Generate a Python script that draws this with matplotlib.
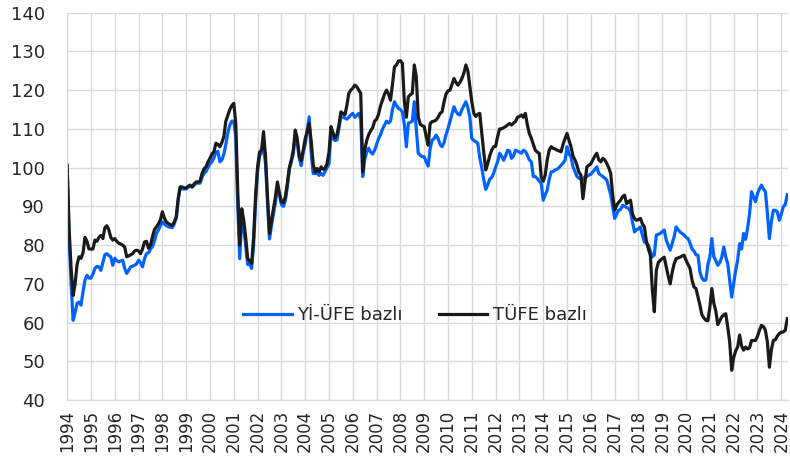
import numpy as np
import matplotlib
matplotlib.use('Agg')
import matplotlib.pyplot as plt

plt.rcParams['font.family'] = ['DejaVu Sans']

# aylik degerler, 1994 Ocak - 2024 Nisan
tufe = {
    1994: [100.6, 84, 74, 67, 70, 75, 77, 76.6, 78, 82, 81, 79],
    1995: [79, 79, 81.3, 81, 82, 82.5, 81.7, 84.5, 85, 84, 82, 81.3],
    1996: [81.7, 81, 80.5, 80.3, 80, 79.5, 77, 77.2, 77.5, 77.8, 78.5, 78.7],
    1997: [78.5, 77.8, 79, 80.8, 81, 79.2, 80, 82.1, 84, 84.7, 85.5, 86.5],
    1998: [88.6, 87, 86, 85.6, 85.3, 85.1, 86, 87.3, 92, 95, 95, 94.8],
    1999: [94.7, 95.2, 95.5, 95, 95.8, 96.3, 96.3, 96.5, 98.5, 99.7, 100.2, 101.5],
    2000: [102.4, 103.5, 104.1, 106.3, 106, 105.4, 106.5, 108, 112, 113.5, 115, 116],
    2001: [116.6, 111.4, 94, 80, 89.4, 86.5, 82, 76.5, 76, 75.2, 82, 93],
    2002: [100.2, 104, 104.5, 109.3, 103, 92.5, 83, 86.4, 89.5, 92.5, 96.3, 93.5],
    2003: [91.2, 91, 92.5, 96, 100, 102, 104.5, 109.7, 107.5, 103, 101.8, 104.5],
    2004: [107.5, 109.3, 111.4, 107, 101, 98.9, 99.8, 98.9, 100.2, 99.6, 99.8, 101],
    2005: [104, 110.6, 109, 107.6, 108.5, 111, 114.4, 114, 113.6, 116, 119.2, 120],
    2006: [120.5, 121.3, 120.9, 120, 119.2, 98.9, 104.5, 107, 108.5, 109.5, 110.3, 112],
    2007: [112.5, 113.8, 116, 117.5, 119, 120, 119, 117.4, 121.5, 126, 126.5, 127.5],
    2008: [127.6, 126.9, 117, 113, 118.3, 118.8, 119.2, 126.5, 123.5, 113, 111.2, 110.8],
    2009: [110.6, 108, 105.8, 111.4, 111.9, 112, 112.3, 113, 114, 114.4, 117, 119],
    2010: [119.8, 120, 121.5, 123, 122, 121.3, 122, 123, 124.4, 126.5, 125, 121],
    2011: [117, 114, 113.2, 113.8, 114, 109, 104, 99.4, 101, 103, 104.5, 105.4],
    2012: [105.5, 108, 110, 110, 110.3, 110.6, 111, 111.4, 111, 111.5, 111.9, 113],
    2013: [113.2, 113.6, 113, 114, 111, 108.8, 107.6, 106, 104.5, 104, 103.7, 97.5],
    2014: [96.5, 98.1, 102, 104.5, 105.4, 105, 104.8, 104.5, 104.3, 104.1, 106, 107.5],
    2015: [108.8, 107, 105.4, 103, 102, 100.6, 98.8, 98.1, 92, 96, 100.2, 100.6],
    2016: [101, 102, 103, 103.7, 102, 101.5, 102.4, 102, 101.1, 100, 98.5, 93],
    2017: [89, 90.3, 91, 91.6, 92.5, 92.9, 90.7, 91.2, 91.6, 88, 86.9, 86.4],
    2018: [86.6, 86.9, 85.5, 84.7, 81, 79, 77.4, 68.4, 62.8, 73.5, 75.5, 76.1],
    2019: [76.5, 76.9, 74.4, 72, 70, 73, 75.2, 76.5, 76.7, 76.9, 77.2, 77.4],
    2020: [76.1, 75, 74, 71, 69.2, 68.8, 66.6, 64.5, 62, 61.2, 60.6, 60.5],
    2021: [64, 68.8, 65, 63, 59.5, 60.5, 61.5, 62, 62.3, 58.9, 55, 47.7],
    2022: [51, 52.7, 53.7, 56.8, 54, 52.9, 53.7, 53.2, 53.5, 55.4, 55.4, 55.4],
    2023: [56.5, 58, 59.3, 59, 58, 55, 48.5, 53, 55.4, 55.6, 56.5, 57.2],
    2024: [57.5, 57.6, 58, 61],
}

yiufe = {
    1994: [100.6, 81, 70, 60.6, 62.5, 65, 65.3, 64.5, 68, 71, 72.2, 71.5],
    1995: [71.5, 72.5, 74, 74.5, 74.4, 73.5, 75.5, 77.5, 77.8, 77.3, 77, 74.8],
    1996: [76.6, 76, 75.7, 75.9, 76.1, 74, 72.7, 73.5, 74.4, 74.6, 74.8, 75.2],
    1997: [76.1, 75.5, 74.4, 76.5, 77.8, 78, 79, 79.6, 81, 83, 83.9, 85],
    1998: [86, 85.5, 85, 84.8, 84.6, 84.5, 85.5, 87, 92, 95, 94.5, 94.5],
    1999: [94.5, 95, 95.2, 95, 95.5, 96, 96, 96, 97.5, 98.5, 99, 100],
    2000: [101, 101.5, 102.5, 104, 104.2, 101.5, 102, 103.5, 106, 109, 111, 112],
    2001: [112, 108, 90, 76.5, 87, 84.5, 80, 75, 75, 74, 80, 91],
    2002: [99, 103, 104, 105, 101, 91, 81.6, 85, 88, 91, 95, 93],
    2003: [90.5, 90, 91.5, 95, 99.5, 101.5, 103.5, 108.5, 106.5, 102.5, 100.5, 104],
    2004: [106, 109.5, 113.1, 104, 98.5, 98.5, 98.5, 98, 98.5, 98, 99, 100],
    2005: [101, 109, 107.5, 107, 107.1, 110, 113.1, 113, 112.8, 112.5, 113, 113.6],
    2006: [114, 113, 113.5, 114, 112.5, 97.7, 102, 104, 105, 104, 103.5, 104.5],
    2007: [106, 107.5, 108.5, 110, 111, 112, 111.5, 112, 115, 117, 116, 115.3],
    2008: [115, 114.4, 111, 105.4, 111.5, 111.7, 112, 117, 110, 103.7, 103.2, 102.8],
    2009: [102.8, 101.5, 100.4, 105, 107.1, 107.5, 108.4, 107.5, 106, 105.4, 106.5, 108.5],
    2010: [110.1, 112, 114, 115.7, 114.5, 113.8, 113.6, 115, 116, 117, 115.5, 113.1],
    2011: [107.5, 107, 106.7, 106.3, 102.5, 100, 97, 94.4, 95.5, 97, 97.5, 98.5],
    2012: [100.2, 101.5, 103.7, 103, 101.9, 103, 104.5, 104.3, 102.4, 103, 104.5, 104.3],
    2013: [104, 103.7, 104.5, 104.2, 103.2, 102, 101.5, 97.7, 97.7, 97.2, 96.5, 95.9],
    2014: [91.6, 93, 94.2, 97, 98.9, 99, 99.4, 99.6, 100, 100.6, 101.2, 101.9],
    2015: [105.4, 103.5, 102.8, 100.2, 99, 97.7, 97.3, 97, 96.8, 97.7, 97.7, 98.1],
    2016: [98.3, 98.9, 99.5, 100.2, 98.5, 98.1, 97.7, 97.3, 96.8, 95, 93, 90],
    2017: [86.9, 88, 89, 89.2, 90.3, 90, 89.7, 89.5, 88.6, 86, 83.4, 84],
    2018: [84.2, 84.7, 82.5, 80.8, 80.5, 80, 78.5, 77, 77.5, 82.6, 82.8, 83],
    2019: [83.5, 83.9, 81.3, 80, 78.7, 80.5, 82.2, 84.7, 84, 83.4, 83, 82.6],
    2020: [82, 81.7, 80.5, 79, 78.5, 77.5, 77.4, 73, 71.5, 70.9, 71, 75],
    2021: [77, 81.7, 77, 76, 74.8, 75.5, 76.9, 79.5, 77, 75.2, 71, 66.6],
    2022: [70, 73.5, 76.1, 80.4, 79, 83, 81.5, 84.3, 88, 93.8, 92.5, 91.2],
    2023: [93.3, 94.5, 95.5, 94.5, 93.8, 88.2, 81.7, 86, 89, 89, 88.6, 86.4],
    2024: [88, 89.9, 90.5, 93],
}

years = list(range(1994, 2025))

tufe_vals = np.concatenate([tufe[y] for y in years])
yiufe_vals = np.concatenate([yiufe[y] for y in years])
t = 1994 + np.arange(len(tufe_vals)) / 12

fig = plt.figure(figsize=(7.9, 4.68), dpi=100)
ax = fig.add_axes([0.085, 0.145, 0.913, 0.828])

ax.plot(t, yiufe_vals, color='#0062ff', lw=2.3, label='Yİ-ÜFE bazlı')
ax.plot(t, tufe_vals, color='#1a1a1a', lw=2.3, label='TÜFE bazlı')

ax.set_xlim(1994, 2024.3)
ax.set_ylim(40, 140)
ax.set_yticks(range(40, 141, 10))
ax.set_xticks(years)
ax.set_xticklabels([str(y) for y in years], rotation=90)

ax.grid(True, color='#d9d9d9', lw=1)
ax.set_axisbelow(True)
for s in ['top', 'right']:
    ax.spines[s].set_visible(False)
for s in ['left', 'bottom']:
    ax.spines[s].set_color('#d9d9d9')
ax.tick_params(axis='both', length=0, colors='#262626')
ax.tick_params(axis='y', pad=16, labelsize=13)
ax.tick_params(axis='x', pad=7, labelsize=12)

ax.legend(loc='center', bbox_to_anchor=(0.482, 0.22), ncol=2, frameon=False,
          fontsize=13, handlelength=2.7, columnspacing=2.0, handletextpad=0.3,
          labelcolor='#262626')

fig.savefig('out.png', dpi=100)
